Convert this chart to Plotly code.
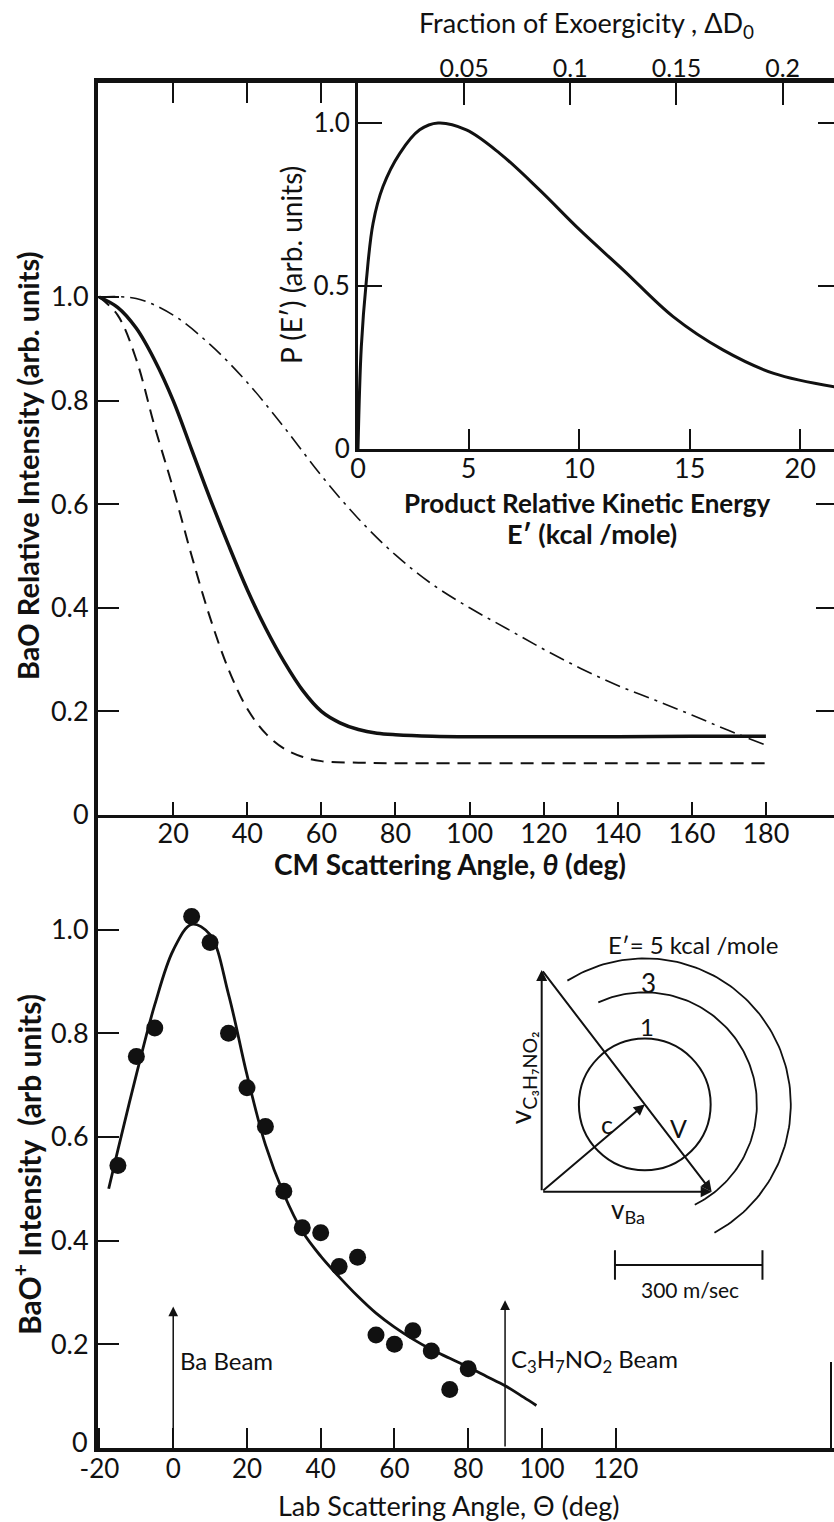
import numpy as np
import plotly.graph_objects as go

W, H = 834, 1522

# ---------------- upper panel: CM angular distributions ----------------
solid_angle = [0, 5, 10, 15, 20, 25, 30, 35, 40, 45, 50, 55, 60, 65, 70, 75, 80, 90, 100, 120, 140, 160, 180]
solid_int = [1.0, 0.98, 0.94, 0.878, 0.80, 0.705, 0.61, 0.52, 0.435, 0.36, 0.295, 0.24, 0.20,
             0.178, 0.165, 0.158, 0.155, 0.152, 0.151, 0.151, 0.151, 0.152, 0.152]

dashed_angle = [0, 5, 10, 15, 20, 25, 30, 35, 40, 45, 50, 55, 60, 70, 80, 100, 140, 180]
dashed_int = [1.0, 0.965, 0.88, 0.75, 0.63, 0.50, 0.38, 0.28, 0.205, 0.157, 0.128, 0.112,
              0.104, 0.101, 0.10, 0.10, 0.10, 0.10]

dashdot_angle = [0, 10, 20, 30, 40, 50, 60, 70, 80, 90, 100, 110, 120, 130, 140, 150, 160, 170, 180]
dashdot_int = [1.0, 0.997, 0.965, 0.908, 0.835, 0.748, 0.655, 0.572, 0.502, 0.445, 0.40, 0.36,
               0.32, 0.283, 0.25, 0.222, 0.193, 0.163, 0.135]

# ---------------- inset: product translational energy distribution ----------------
e_prime = [0, 0.15, 0.38, 0.68, 1.13, 1.89, 2.79, 3.62, 4.9, 6.41, 8.22, 10.03, 12.0,
           14.25, 16.5, 18.8, 21.6]
p_e_prime = [0.0, 0.314, 0.518, 0.692, 0.805, 0.907, 0.979, 1.0, 0.979, 0.907, 0.794, 0.672,
             0.549, 0.406, 0.304, 0.232, 0.19]
exoergicity = 96.0  # kcal/mole, scales the fraction axis

# ---------------- lower panel: lab angular distribution ----------------
lab_angle = [-15, -10, -5, 5, 10, 15, 20, 25, 30, 35, 40, 45, 50, 55, 60, 65, 70, 75, 80]
lab_int = [0.545, 0.755, 0.81, 1.025, 0.975, 0.80, 0.695, 0.62, 0.495, 0.425, 0.415, 0.35,
           0.368, 0.218, 0.20, 0.226, 0.187, 0.113, 0.153]

fit_angle = [-17.5, -15, -10, -5, 0, 5, 10, 15, 20, 25, 30, 35, 40, 45, 50, 55, 60, 65, 70,
             75, 80, 85, 90, 95, 98.5]
fit_int = [0.50, 0.575, 0.72, 0.855, 0.96, 1.01, 0.99, 0.875, 0.72, 0.585, 0.49, 0.418, 0.37,
           0.33, 0.293, 0.26, 0.233, 0.21, 0.19, 0.173, 0.156, 0.138, 0.12, 0.098, 0.082]

beam_angles = [0, 90]
beam_labels = ["Ba Beam", "C<sub>3</sub>H<sub>7</sub>NO<sub>2</sub> Beam"]

# ---------------- Newton diagram (m/sec) ----------------
v_ba = 345.7
v_c3h7no2 = 450.9
m_ba, m_c3h7no2 = 137.3, 89.1
circle_energies = [1, 3, 5]        # kcal/mole
circle_speeds = [134, 228, 297]    # BaO CM speed, m/sec
scale_bar = 300                    # m/sec

c_x = m_ba * v_ba / (m_ba + m_c3h7no2)
c_y = m_c3h7no2 * v_c3h7no2 / (m_ba + m_c3h7no2)


def fx(px):
    return px / W


def fy(py):
    return 1 - py / H


FONT = "Lato, DejaVu Sans, sans-serif"
BLACK = "#111"

fig = go.Figure()

# upper panel curves
fig.add_trace(go.Scatter(x=dashdot_angle, y=dashdot_int, mode="lines", line_shape="spline",
                         line=dict(color=BLACK, width=1.6, dash="16px,6px,3px,6px"),
                         xaxis="x", yaxis="y"))
fig.add_trace(go.Scatter(x=dashed_angle, y=dashed_int, mode="lines", line_shape="spline",
                         line=dict(color=BLACK, width=2, dash="13px,8px"),
                         xaxis="x", yaxis="y"))
fig.add_trace(go.Scatter(x=solid_angle, y=solid_int, mode="lines", line_shape="spline",
                         line=dict(color=BLACK, width=3.5), xaxis="x", yaxis="y"))

# inset curve
fig.add_trace(go.Scatter(x=e_prime, y=p_e_prime, mode="lines", line_shape="spline",
                         line=dict(color=BLACK, width=3), xaxis="x2", yaxis="y2"))

# lower panel
fig.add_trace(go.Scatter(x=fit_angle, y=fit_int, mode="lines", line_shape="spline",
                         line=dict(color=BLACK, width=2.8), xaxis="x3", yaxis="y3"))
fig.add_trace(go.Scatter(x=lab_angle, y=lab_int, mode="markers",
                         marker=dict(color=BLACK, size=17, line=dict(width=0)),
                         xaxis="x3", yaxis="y3"))

# Newton diagram circles / arcs
fig.add_shape(type="circle", xref="x4", yref="y4",
              x0=c_x - circle_speeds[0], x1=c_x + circle_speeds[0],
              y0=c_y - circle_speeds[0], y1=c_y + circle_speeds[0],
              line=dict(color=BLACK, width=2))
arc_spans = [(114.5, -63.5), (122, -61.5)]
for r, (a0, a1) in zip(circle_speeds[1:], arc_spans):
    t = np.radians(np.linspace(a0, a1, 120))
    fig.add_trace(go.Scatter(x=c_x + r * np.cos(t), y=c_y + r * np.sin(t), mode="lines",
                             line=dict(color=BLACK, width=1.8), xaxis="x4", yaxis="y4"))

# scale bar
sb0 = 149
fig.add_trace(go.Scatter(x=[sb0, sb0, None, sb0, sb0 + scale_bar, None, sb0 + scale_bar, sb0 + scale_bar],
                         y=[-179, -119, None, -149, -149, None, -179, -119], mode="lines",
                         line=dict(color=BLACK, width=2), xaxis="x4", yaxis="y4"))

# overlay axes carry no data; empty traces keep them drawn
for xa, ya in [("x5", "y"), ("x", "y5"), ("x6", "y2"), ("x2", "y6")]:
    fig.add_trace(go.Scatter(x=[None], y=[None], xaxis=xa, yaxis=ya, mode="lines"))

tickfont = dict(family=FONT, size=27, color=BLACK)
common = dict(showgrid=False, zeroline=False, automargin=False, color=BLACK)

annotations = []


def arrow(x, y, ax, ay, xref, yref, width=1.6, size=1.1):
    annotations.append(dict(x=x, y=y, ax=ax, ay=ay, xref=xref, yref=yref, axref=xref,
                            ayref=yref, text="", showarrow=True, arrowhead=2,
                            arrowsize=size, arrowwidth=width, arrowcolor=BLACK, standoff=0))


def label(text, x, y, size, xref="paper", yref="paper", angle=0, weight="normal",
          xanchor="center", yanchor="middle"):
    annotations.append(dict(text=text, x=x, y=y, xref=xref, yref=yref, showarrow=False,
                            textangle=angle, xanchor=xanchor, yanchor=yanchor,
                            font=dict(family=FONT, size=size, color=BLACK, weight=weight)))


# beam arrows
for ang, txt, tip in zip(beam_angles, beam_labels, [0.273, 0.285]):
    arrow(ang, tip, ang, 0, "x3", "y3", width=1.5, size=1.3)
    label(txt, ang + 1.2, 0.168, 24, "x3", "y3", xanchor="left")

# Newton diagram vectors
arrow(0, v_c3h7no2, 0, 0, "x4", "y4", width=2, size=1.1)
arrow(v_ba, 0, 0, 0, "x4", "y4", width=2, size=1.1)
arrow(v_ba, 0, 0, v_c3h7no2, "x4", "y4", width=2, size=1.1)
arrow(c_x, c_y, 0, 0, "x4", "y4", width=2, size=1.1)

label("1", 213.5, 335.6, 24, "x4", "y4")
label("3", 216.8, 423.8, 26, "x4", "y4")
label("E′= 5 kcal /mole", 307.7, 501.7, 24, "x4", "y4")
label("c", 132.2, 137, 25, "x4", "y4")
label("V", 277.8, 128.9, 25, "x4", "y4")
label("v<sub>Ba</sub>", 175.5, -37.2, 26, "x4", "y4")
label("v<sub>C₃H₇NO₂</sub>", -40, 231, 28, "x4", "y4", angle=-90)
label("300 m/sec", 301.8, -198, 21, "x4", "y4")

# zero of the lower intensity axis, set a little above the corner
label("0", fx(90), fy(1441), 27, xanchor="right")

# axis titles
label("BaO Relative Intensity (arb. units)", fx(27), fy(466), 29, angle=-90, weight="bold")
label("CM Scattering Angle, <i>θ</i> (deg)", fx(450), fy(864), 28, weight="bold")
label("Product Relative Kinetic Energy", fx(587), fy(503), 26, weight="bold")
label("E′ (kcal /mole)", fx(592), fy(533), 27, weight="bold")
label("P (E′) (arb. units)", fx(291), fy(265), 28, angle=-90)
label("Fraction of Exoergicity , ΔD<sub>0</sub>", fx(586), fy(24), 27)
label("BaO<sup>+</sup> Intensity  (arb units)", fx(27), fy(1165), 30, angle=-90, weight="bold")
label("Lab Scattering Angle, Θ (deg)", fx(448), fy(1505), 27)

# right edge of the lower frame
shapes_extra = [dict(type="line", xref="paper", yref="paper", x0=fx(831), x1=fx(831),
                     y0=fy(1362), y1=fy(1448), line=dict(color=BLACK, width=2))]

top_range = [-0.3, (W - 99.2) / 3.704]
top_y_range = [0, (815 - 83) / 518]
inset_x_range = [0, (W - 358.3) / 22.1]
inset_y_range = [0, (449 - 83) / 326]
lab_ticks = list(range(-20, 121, 20))

fig.update_layout(
    width=W, height=H, margin=dict(l=0, r=0, t=0, b=0),
    paper_bgcolor="white", plot_bgcolor="rgba(0,0,0,0)", showlegend=False,
    template="none", font=dict(family=FONT, color=BLACK),
    xaxis=dict(domain=[fx(98), 1], anchor="y", range=top_range, ticks="inside",
               tickvals=list(range(20, 181, 20)), ticklen=13, tickwidth=2,
               showline=True, linewidth=3, linecolor=BLACK, tickcolor=BLACK,
               tickfont=tickfont, ticklabelstandoff=-7, **common),
    xaxis5=dict(overlaying="x", side="top", anchor="y", range=top_range, ticks="inside",
                tickvals=[20, 40, 60], ticklen=20, tickwidth=2, showticklabels=False,
                showline=True, linewidth=5, linecolor=BLACK, tickcolor=BLACK, **common),
    yaxis=dict(domain=[fy(815), fy(83)], anchor="x", range=top_y_range, ticks="inside",
               tickvals=[0, 0.2, 0.4, 0.6, 0.8, 1.0],
               ticktext=["0", "0.2", "0.4", "0.6", "0.8", "1.0"], ticklen=21, tickwidth=2,
               showline=True, linewidth=4, linecolor=BLACK, tickcolor=BLACK,
               tickfont=tickfont, **common),
    yaxis5=dict(overlaying="y", side="right", anchor="x", range=top_y_range, ticks="inside",
                tickvals=[0.2, 0.4, 0.6], ticklen=18, tickwidth=2, showticklabels=False,
                showline=False, tickcolor=BLACK, **common),
    xaxis2=dict(domain=[fx(358), 1], anchor="y2", range=inset_x_range, ticks="inside",
                tickvals=[0, 5, 10, 15, 20], ticktext=["0", "5", "10", "15", "20"],
                ticklen=20, tickwidth=2, showline=True, linewidth=3, linecolor=BLACK,
                tickcolor=BLACK, tickfont=tickfont, ticklabelstandoff=-6, **common),
    xaxis6=dict(overlaying="x2", side="top", anchor="y2",
                range=[r / exoergicity for r in inset_x_range], ticks="inside",
                tickvals=[0.05, 0.1, 0.15, 0.2], ticktext=["0.05", "0.1", "0.15", "0.2"],
                ticklen=22, tickwidth=2, showline=False, tickcolor=BLACK,
                tickfont=dict(family=FONT, size=25, color=BLACK), **common),
    yaxis2=dict(domain=[fy(449), fy(83)], anchor="x2", range=inset_y_range, ticks="inside",
                tickvals=[0, 0.5, 1.0], ticktext=["0", "0.5", "1.0"], ticklen=24,
                tickwidth=2, showline=True, linewidth=3, linecolor=BLACK, tickcolor=BLACK,
                tickfont=dict(family=FONT, size=26, color=BLACK), **common),
    yaxis6=dict(overlaying="y2", side="right", anchor="x2", range=inset_y_range,
                ticks="inside", tickvals=[0.5, 1.0], ticklen=16, tickwidth=2,
                showticklabels=False, showline=False, tickcolor=BLACK, **common),
    xaxis3=dict(domain=[fx(98), 1], anchor="y3", range=[-20.4, (W - 173.6) / 3.685],
                ticks="inside", tickvals=lab_ticks, ticktext=[str(t) for t in lab_ticks],
                ticklen=20, tickwidth=2, showline=True, linewidth=4, linecolor=BLACK,
                tickcolor=BLACK, tickfont=dict(family=FONT, size=26, color=BLACK),
                ticklabelstandoff=-5, **common),
    yaxis3=dict(domain=[fy(1448), fy(815)], anchor="x3", range=[0, (1448 - 815) / 518.5],
                ticks="inside", tickvals=[0, 0.2, 0.4, 0.6, 0.8, 1.0],
                ticktext=["", "0.2", "0.4", "0.6", "0.8", "1.0"], ticklen=21, tickwidth=2,
                showline=True, linewidth=4, linecolor=BLACK, tickcolor=BLACK,
                tickfont=tickfont, **common),
    xaxis4=dict(domain=[fx(500), 1], anchor="y4", range=[-84.8, 594.5], visible=False,
                **common),
    yaxis4=dict(domain=[fy(1320), fy(900)], anchor="x4", range=[-260.9, 593.2],
                visible=False, **common),
    annotations=annotations,
)
for s in shapes_extra:
    fig.add_shape(**s)

fig.write_html("out.html")
